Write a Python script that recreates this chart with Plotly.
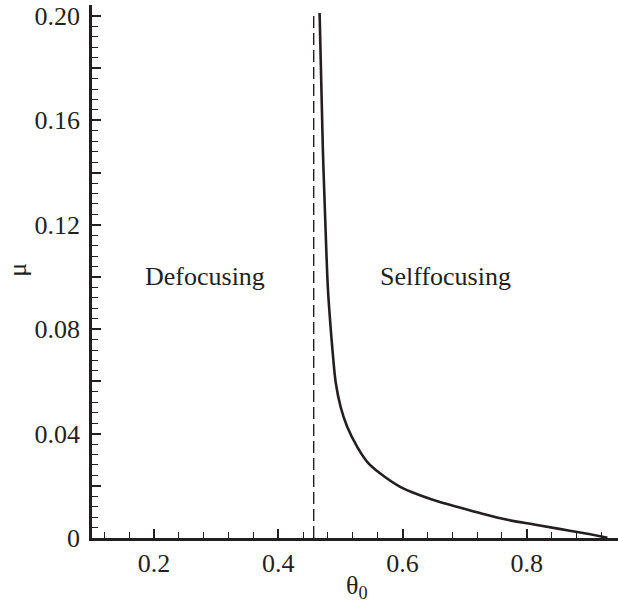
import plotly.graph_objects as go

# Data
theta_curve = [0.4665, 0.4718, 0.4773, 0.4800, 0.4835, 0.4880, 0.4925, 0.5004, 0.5111,
               0.5273, 0.5434, 0.5648, 0.5970, 0.6292, 0.6614, 0.6936, 0.7259, 0.7689,
               0.8117, 0.8547, 0.8978, 0.9300]
mu_curve = [0.2011, 0.1486, 0.1102, 0.0949, 0.0830, 0.0700, 0.0595, 0.0502, 0.0425,
            0.0348, 0.0291, 0.0246, 0.0195, 0.0163, 0.0137, 0.0116, 0.0095, 0.0070,
            0.0052, 0.0034, 0.0016, 0.0001]

theta_boundary = [0.457, 0.457]
mu_boundary = [0.0, 0.2011]

y_label_vals = [0, 0.04, 0.08, 0.12, 0.16, 0.20]
y_label_text = ["0", "0.04", "0.08", "0.12", "0.16", "0.20"]
y_mid_vals = [0.02, 0.06, 0.10, 0.14, 0.18]

region_labels = ["Defocusing", "Selffocusing"]
region_x = [0.2813, 0.6695]
region_y = [0.1, 0.1]

INK = "#231f20"
FONT = "Liberation Serif, 'Times New Roman', Times, serif"
Y_RANGE = [0, 0.2042]

fig = go.Figure()
fig.add_trace(go.Scatter(x=theta_boundary, y=mu_boundary, mode="lines", yaxis="y2",
                         line=dict(color=INK, width=1.4, dash="12px,5px"),
                         showlegend=False, hoverinfo="skip"))
fig.add_trace(go.Scatter(x=theta_curve, y=mu_curve, mode="lines",
                         line=dict(color=INK, width=2.6, shape="spline", smoothing=1.0),
                         showlegend=False))

for t, xv, yv in zip(region_labels, region_x, region_y):
    fig.add_annotation(x=xv, y=yv, text=t, showarrow=False,
                       font=dict(family=FONT, size=26, color=INK),
                       xanchor="center", yanchor="middle")

# axis titles placed as paper-anchored text
fig.add_annotation(xref="paper", yref="paper", x=0.504, y=-0.058, text="θ<sub>0</sub>",
                   showarrow=False, xanchor="center", yanchor="top",
                   font=dict(family=FONT, size=26, color=INK))
fig.add_annotation(xref="paper", yref="paper", x=-0.141, y=0.503, text="μ",
                   showarrow=False, xanchor="center", yanchor="middle", textangle=-90,
                   font=dict(family=FONT, size=26, color=INK))

axis_common = dict(showline=True, linecolor=INK, linewidth=2.7, mirror=False,
                   showgrid=False, zeroline=False, ticks="inside", ticklen=9,
                   tickwidth=1.6, tickcolor=INK, automargin=False,
                   tickfont=dict(family=FONT, size=26, color=INK))

fig.update_layout(
    width=618, height=605,
    margin=dict(l=92, r=0, t=5, b=67),
    paper_bgcolor="white", plot_bgcolor="white",
    xaxis=dict(range=[0.1, 0.947], tick0=0, dtick=0.2, tickformat=".1f",
               ticklabelstandoff=0,
               minor=dict(ticks="inside", dtick=0.04, tick0=0, ticklen=6,
                          tickwidth=1.4, tickcolor=INK),
               **axis_common),
    yaxis=dict(range=Y_RANGE, tickmode="array", tickvals=y_label_vals,
               ticktext=y_label_text, ticklabelstandoff=4,
               minor=dict(ticks="inside", dtick=0.004, tick0=0, ticklen=6,
                          tickwidth=1.4, tickcolor=INK),
               **axis_common),
    yaxis2=dict(range=Y_RANGE, overlaying="y", side="left", anchor="x",
                tickmode="array", tickvals=y_mid_vals, showticklabels=False,
                ticks="inside", ticklen=9, tickwidth=1.6, tickcolor=INK,
                showline=False, showgrid=False, zeroline=False, automargin=False),
)

fig.write_html("out.html", config={"displayModeBar": False},
               post_script="document.body.style.margin='0';")
